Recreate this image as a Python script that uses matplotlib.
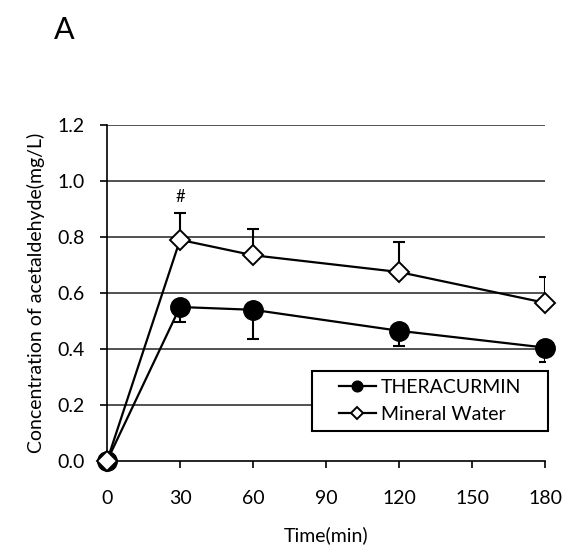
import numpy as np
import matplotlib.pyplot as plt
from matplotlib.patches import Rectangle

plt.rcParams['font.family'] = ['Lato', 'DejaVu Sans']

time_min = [0, 30, 60, 120, 180]
thera = [0.0, 0.55, 0.54, 0.465, 0.405]
thera_err = [0.0, 0.055, 0.105, 0.055, 0.05]
water = [0.0, 0.79, 0.735, 0.675, 0.565]
water_err = [0.0, 0.095, 0.095, 0.107, 0.093]

fig = plt.figure(figsize=(5.88, 5.56), dpi=100)
ax = fig.add_axes([0.182, 0.171, 0.745, 0.604])

# grid lines
for yv in np.arange(0.2, 1.21, 0.2):
    ax.axhline(yv, color='#333333', lw=1.2, zorder=0)

# error bars: one-sided
ax.errorbar(time_min, thera, yerr=[thera_err, np.zeros(5)], fmt='none',
            ecolor='black', elinewidth=1.5, capsize=4.5, capthick=1.5, zorder=2)
ax.errorbar(time_min, water, yerr=[np.zeros(5), water_err], fmt='none',
            ecolor='black', elinewidth=1.5, capsize=4.5, capthick=1.5, zorder=2)

ax.plot(time_min, thera, '-o', color='black', lw=1.6, ms=14, mfc='black',
        mec='black', label='THERACURMIN', clip_on=False, zorder=3)
ax.plot(time_min, water, '-D', color='black', lw=1.6, ms=10.5, mfc='white',
        mec='black', mew=1.4, label='Mineral Water', clip_on=False, zorder=4)

ax.text(30, 0.915, '#', ha='center', va='bottom', fontsize=12)

ax.set_xlim(0, 180)
ax.set_ylim(0, 1.2)
ax.set_xticks([0, 30, 60, 90, 120, 150, 180])
ax.set_yticks(np.arange(0, 1.21, 0.2))
ax.set_yticklabels(['%.1f' % v for v in np.arange(0, 1.21, 0.2)])
ax.tick_params(labelsize=14, width=1.2, length=5, direction='out')
ax.tick_params(axis='y', pad=11)
ax.tick_params(axis='x', pad=16)

ax.spines['top'].set_visible(False)
ax.spines['right'].set_visible(False)
ax.spines['left'].set_linewidth(1.2)
ax.spines['bottom'].set_linewidth(1.2)

ax.set_xlabel('Time(min)', fontsize=14, labelpad=14)
ax.set_ylabel('Concentration of acetaldehyde(mg/L)', fontsize=14, labelpad=9)

# legend box drawn separately so the entries sit centred in a wide frame
box = Rectangle((0.468, 0.089), 0.539, 0.179, transform=ax.transAxes,
                fill=True, facecolor='white', edgecolor='black', lw=1.5,
                clip_on=False, zorder=5)
ax.add_patch(box)
leg = ax.legend(loc='center', bbox_to_anchor=(0.7375, 0.1785), fontsize=14,
                markerscale=0.55, handlelength=1.9, handletextpad=0.25,
                frameon=False, labelspacing=0.5, borderpad=0)
leg.set_zorder(6)

fig.text(0.11, 0.946, 'A', fontsize=22, ha='center', va='center')

fig.savefig('out.png', dpi=100, facecolor='white')
